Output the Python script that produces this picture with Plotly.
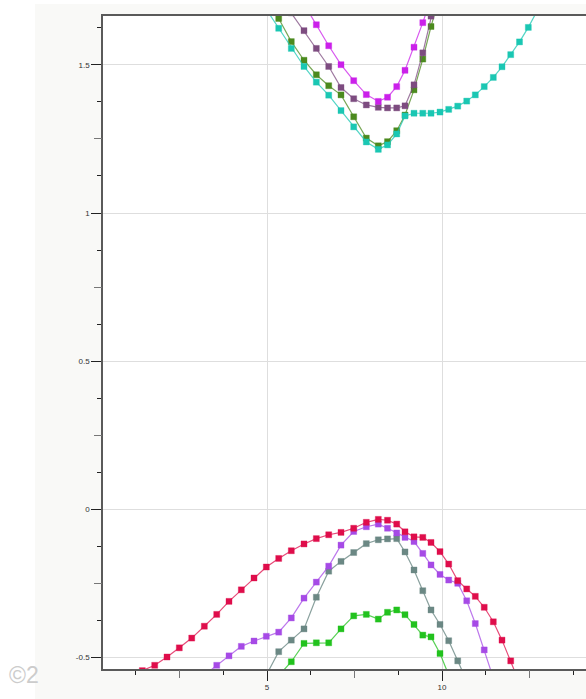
import plotly.graph_objects as go

# k-path sample positions shared by all bands
k_path = [1.086, 1.437, 1.791, 2.143, 2.494, 2.849, 3.209, 3.563, 3.914, 4.266,
          4.629, 4.980, 5.334, 5.694, 6.057, 6.409, 6.763, 7.114, 7.477, 7.837,
          8.180, 8.443, 8.706, 8.943, 9.200, 9.451, 9.686, 9.943, 10.191, 10.449,
          10.706, 10.951, 11.206, 11.466, 11.714, 11.963, 12.214, 12.466, 12.714]

# valence bands (first k index, energies)
band_red_start = 0
band_red = [-0.578, -0.546, -0.528, -0.500, -0.469, -0.436, -0.396, -0.356, -0.312, -0.273,
            -0.233, -0.196, -0.167, -0.141, -0.118, -0.100, -0.087, -0.079, -0.065, -0.045,
            -0.035, -0.038, -0.051, -0.077, -0.094, -0.096, -0.113, -0.144, -0.186, -0.242,
            -0.270, -0.295, -0.332, -0.381, -0.443, -0.513, -0.588]
band_violet_start = 6
band_violet = [-0.561, -0.528, -0.496, -0.464, -0.446, -0.430, -0.416, -0.368, -0.301, -0.247,
               -0.193, -0.122, -0.076, -0.060, -0.051, -0.065, -0.081, -0.096, -0.110, -0.150,
               -0.189, -0.221, -0.240, -0.251, -0.310, -0.387, -0.476, -0.571]
band_slate_start = 11
band_slate = [-0.561, -0.482, -0.443, -0.405, -0.298, -0.210, -0.177, -0.147, -0.117, -0.104,
              -0.101, -0.100, -0.145, -0.206, -0.276, -0.341, -0.390, -0.445, -0.513, -0.581]
band_green_start = 12
band_green = [-0.563, -0.516, -0.454, -0.452, -0.452, -0.405, -0.361, -0.356, -0.372, -0.349,
              -0.341, -0.357, -0.390, -0.426, -0.432, -0.488, -0.561]

# conduction bands
band_olive_start = 11
band_olive = [1.716, 1.657, 1.579, 1.516, 1.467, 1.430, 1.399, 1.325, 1.253, 1.227,
              1.241, 1.278, 1.331, 1.416, 1.520, 1.630, 1.736]
band_teal_start = 11
band_teal = [1.688, 1.624, 1.556, 1.495, 1.442, 1.398, 1.346, 1.291, 1.240, 1.215,
             1.230, 1.267, 1.328, 1.337, 1.337, 1.337, 1.341, 1.350, 1.361, 1.378,
             1.399, 1.427, 1.458, 1.494, 1.535, 1.578, 1.627, 1.682]
band_mauve_start = 12
band_mauve = [1.736, 1.676, 1.616, 1.556, 1.495, 1.424, 1.386, 1.365, 1.357, 1.355,
              1.355, 1.362, 1.433, 1.541, 1.665, 1.787]
band_magenta_start = 14
band_magenta = [1.706, 1.636, 1.565, 1.501, 1.447, 1.400, 1.377, 1.391, 1.427, 1.482,
                1.560, 1.643, 1.726]

# axis tick positions
y_major = [-0.5, 0, 0.5, 1, 1.5]
y_major_text = ["-0.5", "0", "0.5", "1", "1.5"]
y_mid = [-0.25, 0.25, 0.75, 1.25]
y_minor = [-0.375, -0.125, 0.125, 0.375, 0.625, 0.875, 1.125, 1.375, 1.625]
x_major = [5, 10]
x_major_text = ["5", "10"]
x_mid = [2.5, 7.5, 12.5]
x_minor = [1.25, 3.75, 6.25, 8.75, 11.25, 13.75]

X_RANGE = [0.314, 14.114]
Y_RANGE = [-0.5405, 1.6655]

bands = [
    (band_green_start, band_green, "#22c21e", "rgba(34,194,30,0.75)"),
    (band_slate_start, band_slate, "#6b8884", "rgba(107,136,132,0.8)"),
    (band_violet_start, band_violet, "#a64ae6", "rgba(166,74,230,0.75)"),
    (band_red_start, band_red, "#df0d4b", "rgba(223,13,75,0.75)"),
    (band_olive_start, band_olive, "#4b8a1e", "rgba(75,138,30,0.75)"),
    (band_teal_start, band_teal, "#1ac7b3", "rgba(26,199,179,0.75)"),
    (band_mauve_start, band_mauve, "#7d4c80", "rgba(125,76,128,0.75)"),
    (band_magenta_start, band_magenta, "#cb20ea", "rgba(203,32,234,0.75)"),
]

fig = go.Figure()
for start, values, color, line_color in bands:
    fig.add_trace(go.Scatter(
        x=k_path[start:start + len(values)],
        y=values,
        mode="lines+markers",
        line=dict(color=line_color, width=1.2),
        marker=dict(symbol="square", size=6, color=color,
                    line=dict(color=line_color.replace("0.75", "0.35").replace("0.8", "0.35"), width=1)),
        showlegend=False,
        hoverinfo="skip",
    ))

# empty helper trace so the secondary tick axes are drawn
fig.add_trace(go.Scatter(x=[None], y=[None], xaxis="x2", yaxis="y2",
                         showlegend=False, hoverinfo="skip"))

axis_font = dict(family="Liberation Sans, Arial, sans-serif", size=8, color="#333333")

fig.update_layout(
    width=586, height=699,
    margin=dict(l=103, r=0, t=16, b=30),
    paper_bgcolor="#ffffff",
    plot_bgcolor="#ffffff",
    xaxis=dict(
        range=X_RANGE, showline=True, linecolor="#5a5a5a", linewidth=1.5, mirror=True,
        tickmode="array", tickvals=x_major, ticktext=x_major_text,
        ticks="outside", ticklen=10, tickwidth=1, tickcolor="#222222",
        showgrid=True, gridcolor="#dedede", gridwidth=1, zeroline=False,
        tickfont=axis_font,
        minor=dict(tickmode="array", tickvals=x_minor, ticks="outside", ticklen=4,
                   tickcolor="#222222", showgrid=False),
    ),
    yaxis=dict(
        range=Y_RANGE, showline=True, linecolor="#5a5a5a", linewidth=1.5,
        tickmode="array", tickvals=y_major, ticktext=y_major_text,
        ticks="outside", ticklen=10, tickwidth=1, tickcolor="#222222",
        showgrid=True, gridcolor="#dedede", gridwidth=1, zeroline=False,
        tickfont=axis_font,
        minor=dict(tickmode="array", tickvals=y_minor, ticks="outside", ticklen=4,
                   tickcolor="#222222", showgrid=False),
    ),
    xaxis2=dict(
        range=X_RANGE, overlaying="x", anchor="y", side="bottom",
        tickmode="array", tickvals=x_mid, ticks="outside", ticklen=8,
        tickcolor="#777777", showticklabels=False, showgrid=False,
        zeroline=False, showline=False,
    ),
    yaxis2=dict(
        range=Y_RANGE, overlaying="y", anchor="x", side="left",
        tickmode="array", tickvals=y_mid, ticks="outside", ticklen=8,
        tickcolor="#777777", showticklabels=False, showgrid=False,
        zeroline=False, showline=False,
    ),
    shapes=[
        # light panel behind the chart
        dict(type="rect", xref="paper", yref="paper", layer="below",
             x0=(35 - 103) / 483, x1=1.0, y0=-30 / 653, y1=(669 - 4) / 653,
             fillcolor="#f9f9f7", line=dict(width=0)),
        # white plotting area
        dict(type="rect", xref="paper", yref="paper", layer="below",
             x0=0, x1=1, y0=0, y1=1, fillcolor="#ffffff", line=dict(width=0)),
    ],
    annotations=[
        dict(text="©2", xref="paper", yref="paper", x=(7 - 103) / 483, y=-6 / 653,
             xanchor="left", yanchor="middle", showarrow=False,
             font=dict(family="Liberation Sans, Arial, sans-serif", size=23, color="#cccccc")),
    ],
)

fig.write_html("out.html")
